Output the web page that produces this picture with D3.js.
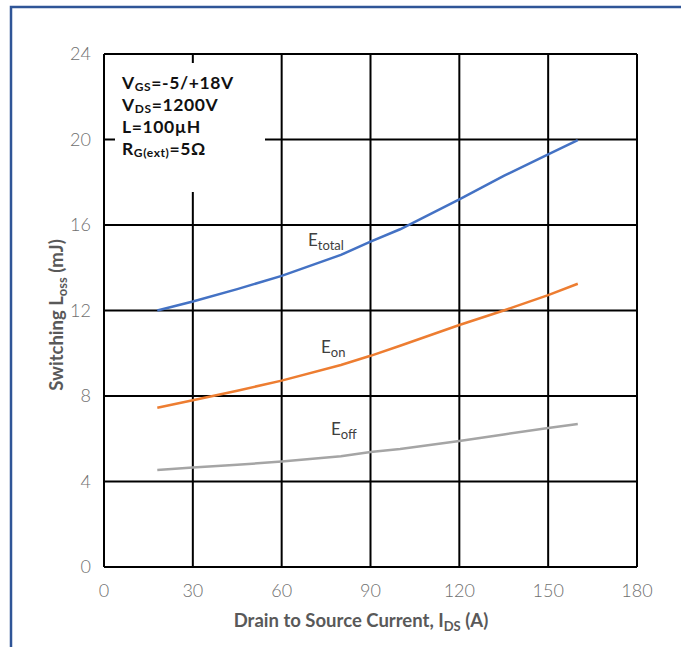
<!DOCTYPE html>
<html>
<head>
<meta charset="utf-8">
<script src="https://d3js.org/d3.v7.min.js"></script>
<style>
  body { margin: 0; background: #fff; }
  text { font-family: Lato, "Open Sans", sans-serif; }
</style>
</head>
<body>
<svg id="myPlot" width="681" height="647"></svg>
<script>
// Data
const current = [18, 30, 45, 60, 80, 90, 100, 120, 135, 150, 160];
const eTotal = [12.0, 12.42, 13.0, 13.62, 14.6, 15.22, 15.8, 17.2, 18.3, 19.3, 19.97];
const eOn = [7.45, 7.8, 8.25, 8.72, 9.45, 9.88, 10.35, 11.32, 12.0, 12.72, 13.25];
const eOff = [4.54, 4.66, 4.78, 4.93, 5.18, 5.38, 5.52, 5.89, 6.2, 6.5, 6.69];
const xTicks = [0, 30, 60, 90, 120, 150, 180];
const yTicks = [0, 4, 8, 12, 16, 20, 24];
const notes = [["V", "GS", "=-5/+18V"], ["V", "DS", "=1200V"], ["L=100µH", "", ""], ["R", "G(ext)", "=5Ω"]];

const svg = d3.select("#myPlot");

// frame of the picture
svg.append("path")
  .attr("d", "M11,647 L11,7 L681,7")
  .attr("fill", "none")
  .attr("stroke", "#2F5597")
  .attr("stroke-width", 2.5);

const x = d3.scaleLinear().domain([0, 180]).range([104, 637]);
const y = d3.scaleLinear().domain([0, 24]).range([567, 54]);

// grid
svg.append("g").selectAll("line")
  .data(yTicks).enter().append("line")
  .attr("x1", x(0)).attr("x2", x(180))
  .attr("y1", d => y(d)).attr("y2", d => y(d))
  .attr("stroke", "#000").attr("stroke-width", 2);

svg.append("g").selectAll("line")
  .data(xTicks).enter().append("line")
  .attr("x1", d => x(d)).attr("x2", d => x(d))
  .attr("y1", y(0)).attr("y2", y(24))
  .attr("stroke", "#000").attr("stroke-width", 2);

// tick labels
svg.append("g").selectAll("text")
  .data(yTicks).enter().append("text")
  .attr("x", 91).attr("y", d => y(d) + 6)
  .attr("text-anchor", "end")
  .attr("font-size", 18).attr("font-weight", 300)
  .attr("fill", "#6f6f6f")
  .text(d => d);

svg.append("g").selectAll("text")
  .data(xTicks).enter().append("text")
  .attr("x", d => x(d)).attr("y", 597)
  .attr("text-anchor", "middle")
  .attr("font-size", 18).attr("font-weight", 300)
  .attr("fill", "#6f6f6f")
  .text(d => d);

// white box for the test conditions
svg.append("rect")
  .attr("x", 115).attr("y", 63)
  .attr("width", 150).attr("height", 129)
  .attr("fill", "#fff");

// test conditions
const noteText = svg.append("g")
  .attr("font-size", 17.5).attr("font-weight", 700)
  .attr("letter-spacing", 0.6).attr("fill", "#111");
notes.forEach((n, i) => {
  const t = noteText.append("text").attr("x", 122).attr("y", 89 + i * 22);
  t.append("tspan").text(n[0]);
  if (n[1]) t.append("tspan").attr("font-size", 12).attr("dy", 1.5).text(n[1]);
  if (n[2]) t.append("tspan").attr("dy", -1.5).text(n[2]);
});

// curves
const line = d3.line()
  .x((d, i) => x(current[i]))
  .y(d => y(d));

[[eTotal, "#4472C4"], [eOn, "#ED7D31"], [eOff, "#A5A5A5"]].forEach(s => {
  svg.append("path")
    .attr("d", line(s[0]))
    .attr("fill", "none")
    .attr("stroke", s[1])
    .attr("stroke-width", 2.5);
});

// curve labels
const labels = [["E", "total", 308, 246], ["E", "on", 321, 353], ["E", "off", 331, 435]];
labels.forEach(l => {
  const t = svg.append("text").attr("x", l[2]).attr("y", l[3])
    .attr("font-size", 17).attr("fill", "#404040");
  t.append("tspan").text(l[0]);
  t.append("tspan").attr("font-size", 13).attr("dy", 4).text(l[1]);
});

// axis titles
const xt = svg.append("text")
  .attr("x", 361).attr("y", 627)
  .attr("text-anchor", "middle")
  .attr("font-size", 18.5).attr("font-weight", 700)
  .attr("fill", "#595959");
xt.append("tspan").text("Drain to Source Current, I");
xt.append("tspan").attr("font-size", 13).attr("dy", 4).text("DS");
xt.append("tspan").attr("dy", -4).text(" (A)");

const yt = svg.append("text")
  .attr("transform", "translate(63,315) rotate(-90)")
  .attr("text-anchor", "middle")
  .attr("font-size", 18.5).attr("font-weight", 700)
  .attr("fill", "#595959");
yt.append("tspan").text("Switching L");
yt.append("tspan").attr("font-size", 13).attr("dy", 4).text("oss");
yt.append("tspan").attr("dy", -4).text(" (mJ)");
</script>
</body>
</html>
